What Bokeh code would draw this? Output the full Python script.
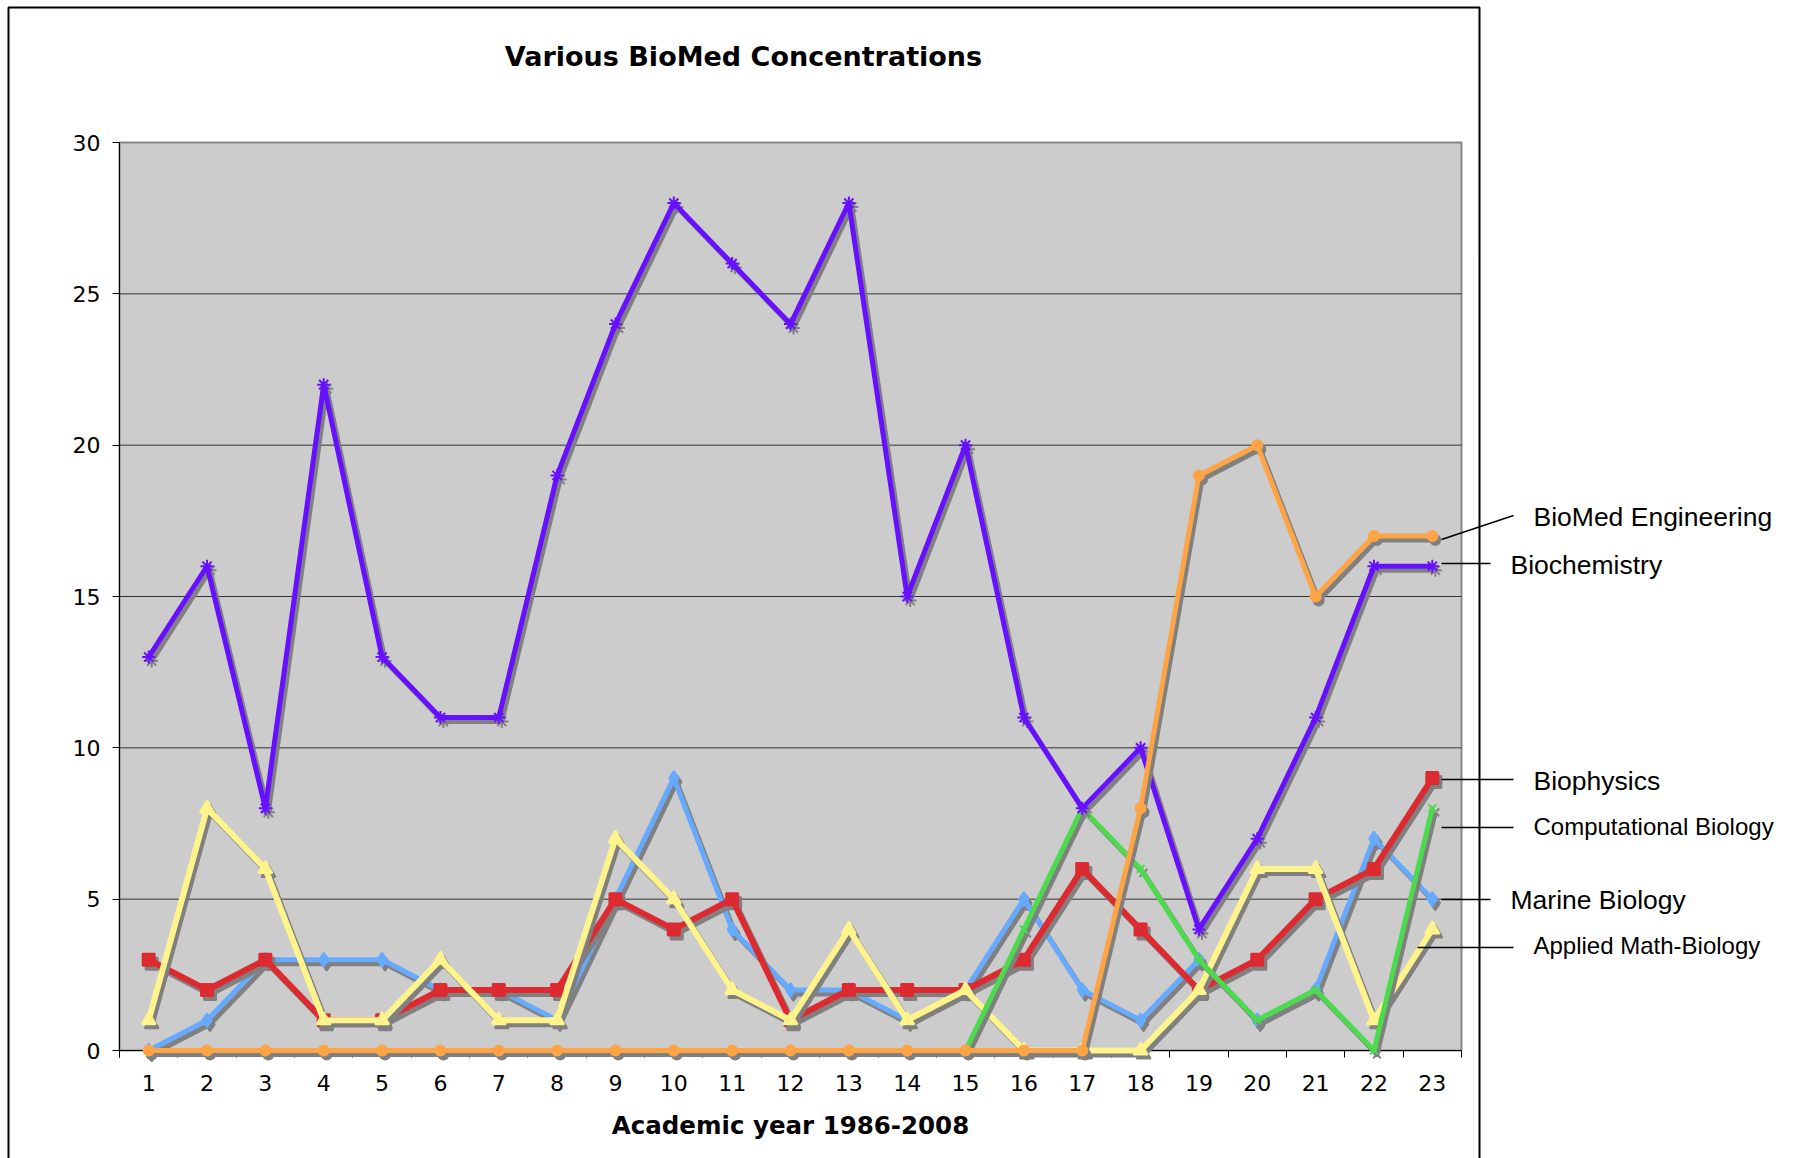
from bokeh.plotting import figure
from bokeh.models import Range1d, FixedTicker, Label, Arrow, BoxAnnotation
from bokeh.embed import file_html
from bokeh.resources import INLINE

# Academic years 1986-2008, numbered 1..23
years = list(range(1, 24))

marine_biology = [0, 1, 3, 3, 3, 2, 2, 1, 5, 9, 4, 2, 2, 1, 2, 5, 2, 1, 3, 1, 2, 7, 5]
biophysics = [3, 2, 3, 1, 1, 2, 2, 2, 5, 4, 5, 1, 2, 2, 2, 3, 6, 4, 2, 3, 5, 6, 9]
applied_math_biology = [1, 8, 6, 1, 1, 3, 1, 1, 7, 5, 2, 1, 4, 1, 2, 0, 0, 0, 2, 6, 6, 1, 4]
computational_biology = [0, 0, 0, 0, 0, 0, 0, 0, 0, 0, 0, 0, 0, 0, 0, 4, 8, 6, 3, 1, 2, 0, 8]
biochemistry = [13, 16, 8, 22, 13, 11, 11, 19, 24, 28, 26, 24, 28, 15, 20, 11, 8, 10, 4, 7, 11, 16, 16]
biomed_engineering = [0, 0, 0, 0, 0, 0, 0, 0, 0, 0, 0, 0, 0, 0, 0, 0, 0, 8, 19, 20, 15, 17, 17]

y_ticks = [0, 5, 10, 15, 20, 25, 30]

# (name, values, colour, marker, marker size, line width)
series = [
    ("Marine Biology", marine_biology, "#66AAFF", "diamond", 14, 5),
    ("Biophysics", biophysics, "#DD2A30", "square", 12, 6),
    ("Applied Math-Biology", applied_math_biology, "#FFF48C", "triangle", 14, 6),
    ("Computational Biology", computational_biology, "#4CDB4C", "x", 11, 5),
    ("Biochemistry", biochemistry, "#6610FF", "asterisk", 13, 5),
    ("BioMed Engineering", biomed_engineering, "#FFA444", "circle", 10, 5),
]

W, H = 1796, 1158
# the frame fills the whole canvas; the plotting area sits at these pixels
FL, FR, FT, FB = 119, 1461, 142, 1050
X0, X1, Y0, Y1 = 0.5, 23.5, 0, 30
KX = (X1 - X0) / (FR - FL)
KY = (Y1 - Y0) / (FB - FT)


def px_x(px):
    return X0 + (px - FL) * KX


def px_y(py):
    return Y0 + (FB - py) * KY


p = figure(width=W, height=H, output_backend="svg", toolbar_location=None,
           x_range=Range1d(px_x(0), px_x(W)), y_range=Range1d(px_y(H), px_y(0)),
           min_border=0)

p.background_fill_color = "white"
p.border_fill_color = "white"
p.outline_line_color = None
p.xgrid.grid_line_color = None
p.ygrid.grid_line_color = None

# grey plotting area with its frame
p.add_layout(BoxAnnotation(left=X0, right=X1, bottom=Y0, top=Y1,
                           fill_color="#CCCCCC", fill_alpha=1,
                           line_color="#888888", line_alpha=1, line_width=2,
                           level="image"))

# x axis: year labels centred in each slot, tick marks on slot boundaries
xa = p.xaxis[0]
xa.fixed_location = Y0
xa.bounds = (X0, X1)
xa.level = "underlay"
xa.ticker = FixedTicker(ticks=years, minor_ticks=[y - 0.5 for y in years] + [23.5])
xa.major_tick_line_color = None
xa.major_tick_out = 7
xa.major_tick_in = 0
xa.minor_tick_out = 7
xa.minor_tick_in = 0
xa.minor_tick_line_color = "black"
xa.axis_line_color = "black"
xa.major_label_text_font = "DejaVu Sans"
xa.major_label_text_font_size = "22px"
xa.major_label_text_color = "black"
xa.major_label_standoff = 17
xa.axis_label = "Academic year 1986-2008"
xa.axis_label_text_font = "DejaVu Sans"
xa.axis_label_text_font_style = "bold"
xa.axis_label_text_font_size = "24.5px"
xa.axis_label_text_color = "black"
xa.axis_label_standoff = 17

ya = p.yaxis[0]
ya.fixed_location = X0
ya.bounds = (px_y(1057), Y1)
ya.level = "underlay"
ya.ticker = FixedTicker(ticks=y_ticks)
ya.minor_tick_line_color = None
ya.major_tick_out = 7
ya.major_tick_in = 0
ya.major_tick_line_color = "black"
ya.axis_line_color = "black"
ya.major_label_text_font = "DejaVu Sans"
ya.major_label_text_font_size = "22px"
ya.major_label_text_color = "black"
ya.major_label_standoff = 12

# horizontal gridlines across the plotting area
grid_levels = y_ticks[1:-1]
p.segment(x0=[X0] * len(grid_levels), x1=[X1] * len(grid_levels),
          y0=grid_levels, y1=grid_levels, line_color="#333333", line_width=1)

# drop shadow offset (3 px right, 4 px down) expressed in data units
sdx = 3 * KX
sdy = -4 * KY

for name, vals, color, marker, size, lw in series:
    xs = [x + sdx for x in years]
    ys = [v + sdy for v in vals]
    p.line(xs, ys, line_color="#808080", line_width=lw, line_join="round")
    p.scatter(xs, ys, marker=marker, size=size, fill_color="#808080",
              line_color="#808080", line_width=2)
    p.line(years, vals, line_color=color, line_width=lw, line_join="round")
    p.scatter(years, vals, marker=marker, size=size, fill_color=color,
              line_color=color, line_width=2)

# chart title
p.add_layout(Label(x=px_x(743), y=px_y(56), text="Various BioMed Concentrations",
                   text_font="DejaVu Sans", text_font_style="bold",
                   text_font_size="27px", text_align="center",
                   text_baseline="middle", text_color="black"))

# outer chart-area border
p.add_layout(BoxAnnotation(left=px_x(8), right=px_x(1479), top=px_y(7),
                           bottom=px_y(1200), fill_alpha=0,
                           line_color="black", line_alpha=1, line_width=2))

# series names with leader lines at the right edge
labels = [
    ("BioMed Engineering", 1533, 516, "26.5px", (1441, 539, 1513, 515)),
    ("Biochemistry", 1510, 564, "26.5px", (1441, 563, 1490, 563)),
    ("Biophysics", 1533, 780, "26.5px", (1441, 779, 1513, 779)),
    ("Computational Biology", 1533, 826, "24px", (1441, 827, 1513, 827)),
    ("Marine Biology", 1510, 899, "26.5px", (1441, 899, 1490, 899)),
    ("Applied Math-Biology", 1533, 945, "24px", (1417, 947, 1513, 947)),
]
for text, lx, ly, fs, (ax0, ay0, ax1, ay1) in labels:
    p.add_layout(Label(x=px_x(lx), y=px_y(ly), text=text,
                       text_font="Liberation Sans", text_font_size=fs,
                       text_align="left", text_baseline="alphabetic",
                       text_color="black"))
    p.add_layout(Arrow(end=None, x_start=px_x(ax0), y_start=px_y(ay0),
                       x_end=px_x(ax1), y_end=px_y(ay1),
                       line_color="black", line_width=1.5))

open("out.html", "w").write(file_html(p, INLINE))
